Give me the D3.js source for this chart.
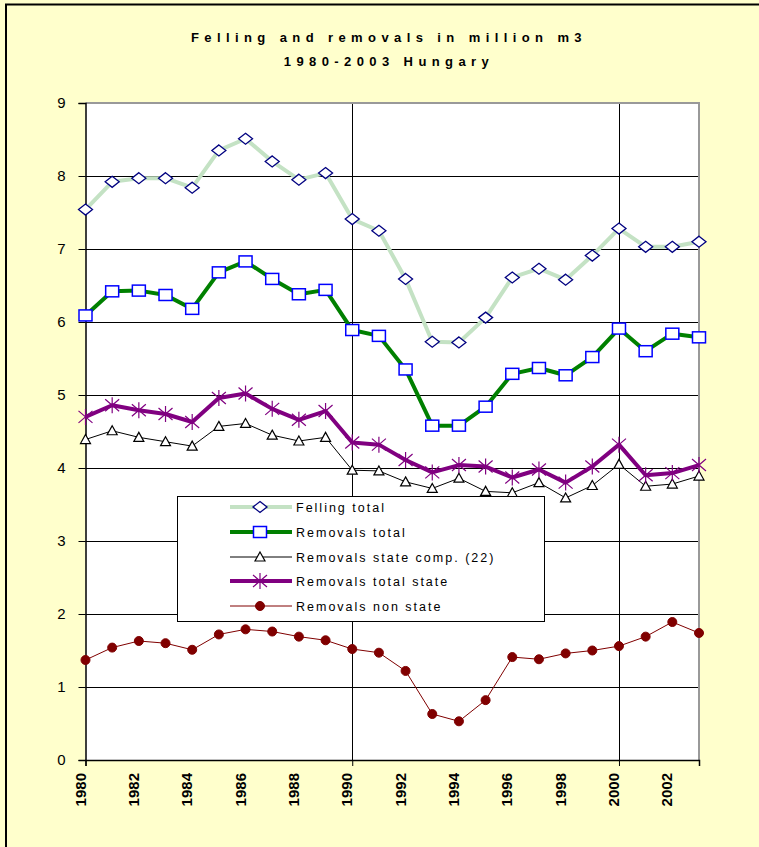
<!DOCTYPE html>
<html><head><meta charset="utf-8">
<script src="https://cdn.jsdelivr.net/npm/d3@7/dist/d3.min.js"></script>
<style>
html,body{margin:0;padding:0;background:#FFFFCC;overflow:hidden;}
svg{display:block;font-family:Arial,"Liberation Sans",sans-serif;}
</style></head>
<body><svg id="c" width="759" height="847"></svg>
<script>
const years = d3.range(1980, 2004);
const fellingTotal = [7.54,7.92,7.97,7.97,7.84,8.35,8.51,8.20,7.95,8.04,7.41,7.25,6.59,5.73,5.72,6.06,6.61,6.73,6.58,6.91,7.28,7.03,7.03,7.10];
const removalsTotal = [6.09,6.42,6.43,6.37,6.18,6.68,6.83,6.59,6.38,6.44,5.89,5.81,5.35,4.58,4.58,4.84,5.29,5.37,5.27,5.52,5.91,5.60,5.84,5.79];
const removalsStateComp = [4.39,4.51,4.42,4.36,4.30,4.57,4.61,4.45,4.37,4.42,3.97,3.96,3.81,3.72,3.86,3.68,3.66,3.80,3.59,3.76,4.05,3.75,3.78,3.89];
const removalsTotalState = [4.70,4.86,4.79,4.74,4.63,4.96,5.02,4.81,4.66,4.78,4.35,4.32,4.11,3.94,4.04,4.02,3.87,3.98,3.80,4.02,4.32,3.90,3.93,4.04];
const removalsNonState = [1.37,1.54,1.63,1.60,1.51,1.72,1.79,1.76,1.69,1.64,1.52,1.47,1.22,0.63,0.53,0.82,1.41,1.38,1.46,1.50,1.56,1.69,1.89,1.74];
const yTicks = [0,1,2,3,4,5,6,7,8,9];
const xTickLabels = [1980,1982,1984,1986,1988,1990,1992,1994,1996,1998,2000,2002];
const xGridYears = [1990,2000];
const titleLines = ["Felling and removals in million m3", "1980-2003 Hungary"];
const seriesNames = ["Felling total","Removals total","Removals state comp. (22)","Removals total state","Removals non state"];

const svg = d3.select("#c");
const L = 85.5, R = 699, T = 103, B = 760;
const x = d3.scaleLinear().domain([1980, 2003]).range([L, R]);
const y = d3.scaleLinear().domain([0, 9]).range([B, T]);

// outer frame
svg.append("rect").attr("x",0).attr("y",0).attr("width",759).attr("height",847).attr("fill","#FFFFCC");
svg.append("path").attr("d","M6,847 V4.5 H759").attr("fill","none").attr("stroke","#000").attr("stroke-width",2);

// title
const title = svg.append("text").attr("text-anchor","middle").attr("font-weight","bold")
  .attr("font-size",13).attr("letter-spacing","5.4px").attr("fill","#000");
title.selectAll("tspan").data(titleLines).join("tspan")
  .attr("x",389).attr("y",(d,i)=>42+i*24).text(d=>d);

// plot area
svg.append("rect").attr("x",L).attr("y",T).attr("width",R-L).attr("height",B-T).attr("fill","#fff");

// gridlines
svg.append("g").selectAll("line").data(yTicks.filter(v=>v>0)).join("line")
  .attr("x1",L).attr("x2",R).attr("y1",d=>Math.round(y(d))+0.5).attr("y2",d=>Math.round(y(d))+0.5)
  .attr("stroke","#000").attr("stroke-width",1);
svg.append("g").selectAll("line").data(xGridYears).join("line")
  .attr("x1",d=>Math.round(x(d))+0.5).attr("x2",d=>Math.round(x(d))+0.5).attr("y1",T).attr("y2",B)
  .attr("stroke","#000").attr("stroke-width",1);

// plot border (top/right grey)
svg.append("path").attr("d",`M${L},${T} H${R} V${B}`).attr("fill","none").attr("stroke","#999").attr("stroke-width",2);

// y axis
const yAxis = d3.axisLeft(y).tickValues(yTicks).tickSize(7).tickPadding(13).tickFormat(d3.format("d"));
const gy = svg.append("g").attr("transform",`translate(${L},0)`).call(yAxis);
gy.select(".domain").attr("stroke","#000").attr("stroke-width",1.5);
gy.selectAll("text").attr("font-size",15).attr("font-family","Arial, 'Liberation Sans', sans-serif").attr("fill","#000");

// x axis
const xAxis = d3.axisBottom(x).tickValues([1980,1990,2000]).tickSize(6).tickFormat("");
const gx = svg.append("g").attr("transform",`translate(0,${B})`).call(xAxis);
gx.select(".domain").attr("stroke","#000").attr("stroke-width",1.5);
svg.append("g").selectAll("text").data(xTickLabels).join("text")
  .attr("transform",d=>`translate(${x(d)},${B+13}) rotate(-90)`)
  .attr("text-anchor","end").attr("font-size",15).attr("font-weight","bold").text(d=>d);

const line = d3.line().x((d,i)=>x(years[i])).y(d=>y(d));

const series = [
  {name:seriesNames[0], vals:fellingTotal, color:"#c4e2c4", width:4, marker:"diamond"},
  {name:seriesNames[1], vals:removalsTotal, color:"#008000", width:4, marker:"square"},
  {name:seriesNames[2], vals:removalsStateComp, color:"#000", width:1, marker:"triangle"},
  {name:seriesNames[3], vals:removalsTotalState, color:"#800080", width:4, marker:"star"},
  {name:seriesNames[4], vals:removalsNonState, color:"#800000", width:1, marker:"circle"}
];

function drawMarker(g, type){
  if(type==="diamond"){
    g.append("path").attr("d","M0,-5.5 L7,0 L0,5.5 L-7,0 Z").attr("fill","#fff").attr("stroke","#000080").attr("stroke-width",1.3);
  } else if(type==="square"){
    g.append("rect").attr("x",-6.5).attr("y",-5.5).attr("width",13).attr("height",11).attr("fill","#fff").attr("stroke","#0000FF").attr("stroke-width",1.5);
  } else if(type==="triangle"){
    g.append("path").attr("d","M0,-5 L5,4 L-5,4 Z").attr("fill","#fff").attr("stroke","#000").attr("stroke-width",1.2);
  } else if(type==="star"){
    g.append("path").attr("d","M-7,-6 L7,6 M-7,6 L7,-6 M0,-8 V8").attr("stroke","#800080").attr("stroke-width",1.2).attr("fill","none");
  } else if(type==="circle"){
    g.append("circle").attr("r",4.5).attr("fill","#800000").attr("stroke","#800000");
  }
}

series.forEach(s=>{
  const g = svg.append("g");
  g.append("path").datum(s.vals).attr("d",line).attr("fill","none").attr("stroke",s.color)
    .attr("stroke-width",s.width).attr("stroke-linejoin","round");
  s.vals.forEach((v,i)=>{
    const m = g.append("g").attr("transform",`translate(${x(years[i])},${y(v)})`);
    drawMarker(m, s.marker);
  });
});

// legend
const lg = svg.append("g");
lg.append("rect").attr("x",177.5).attr("y",496.5).attr("width",367).attr("height",125).attr("fill","#fff").attr("stroke","#000").attr("stroke-width",1);
const rowY = [507,532,557,581,606];
series.forEach((s,i)=>{
  const r = lg.append("g").attr("transform",`translate(0,${rowY[i]})`);
  r.append("line").attr("x1",230).attr("x2",292).attr("y1",0).attr("y2",0).attr("stroke",s.color).attr("stroke-width",s.width);
  drawMarker(r.append("g").attr("transform","translate(260,0)"), s.marker);
  r.append("text").attr("x",296).attr("y",4.5).attr("font-size",12.5).attr("letter-spacing","2px").attr("fill","#000").text(s.name);
});
</script></body></html>
